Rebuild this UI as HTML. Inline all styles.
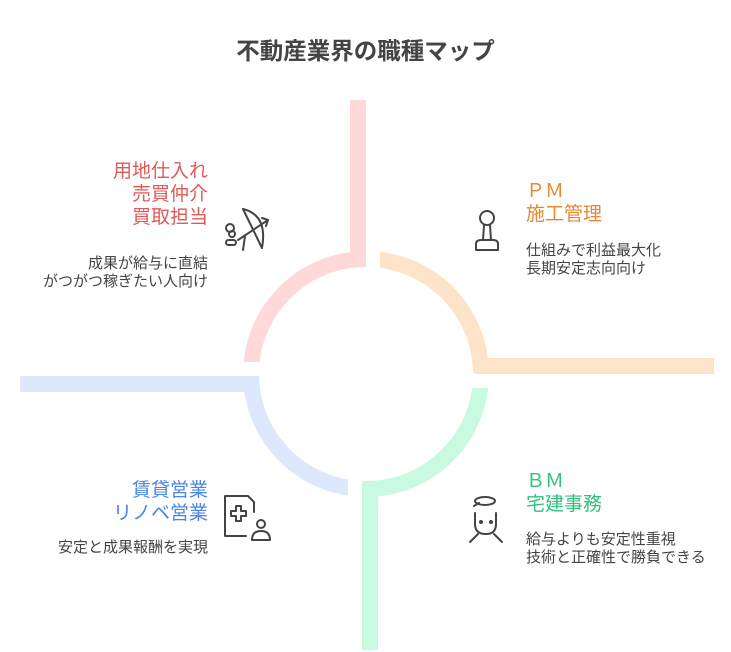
<!DOCTYPE html>
<html><head><meta charset="utf-8"><style>
body{margin:0;width:731px;height:652px;background:#fff;position:relative;overflow:hidden;font-family:"Liberation Sans","Noto Sans CJK JP",sans-serif}
.t{position:absolute;white-space:nowrap}
.r{text-align:right;right:523px}
.h{font-size:19px;line-height:23px}
.d{font-size:15px;line-height:18px;color:#444}
</style></head><body>
<svg width="731" height="652" style="position:absolute;left:0;top:0">
<defs>
<clipPath id="cp"><rect x="0" y="0" width="366" height="362"/></clipPath>
<clipPath id="co"><rect x="380" y="0" width="400" height="373"/></clipPath>
<clipPath id="cg"><rect x="362" y="388" width="400" height="300"/></clipPath>
<clipPath id="cb"><rect x="0" y="376" width="348" height="300"/></clipPath>
</defs>
<circle cx="366" cy="374" r="115" fill="none" stroke="#ffd9da" stroke-width="16" clip-path="url(#cp)"/>
<circle cx="366" cy="374" r="115" fill="none" stroke="#fde3c8" stroke-width="16" clip-path="url(#co)"/>
<circle cx="366" cy="374" r="115" fill="none" stroke="#c8fae0" stroke-width="16" clip-path="url(#cg)"/>
<circle cx="366" cy="374" r="115" fill="none" stroke="#dde8fd" stroke-width="16" clip-path="url(#cb)"/>
<rect x="350" y="100" width="16" height="166" fill="#ffd9da"/>
<rect x="475" y="358" width="239" height="16" fill="#fde3c8"/>
<rect x="362" y="482" width="16" height="168" fill="#c8fae0"/>
<rect x="20" y="376" width="239" height="16" fill="#dde8fd"/>
<g fill="none" stroke="#444" stroke-width="2" stroke-linecap="round" stroke-linejoin="round">
<path d="M243 209 Q268 215 262 248"/><path d="M243 209 L262 248"/><path d="M238 240 L268 220"/><path d="M262 218 L268 220 L266 226"/><path d="M245 236 L243 250"/>
<circle cx="230" cy="228" r="4"/><circle cx="232" cy="234" r="3"/><rect x="226" y="240" width="10" height="5" rx="2.5"/>
<circle cx="487" cy="218" r="7"/><path d="M484 225 L483 240 M490 225 L491 240 M476 250 L476 244 Q476 240 481 240 L493 240 Q498 240 498 244 L498 250 Z"/>
<ellipse cx="485" cy="501" rx="10" ry="4"/><path d="M479 503 L474 506 M475 513 L475 524 Q475 534 486 534 Q496 534 496 524 L496 513"/><path d="M470 542 L478 534 M494 534 L502 542"/>
<circle cx="481" cy="522" r="1" fill="#444"/><circle cx="491" cy="522" r="1" fill="#444"/>
<path d="M235 496 L248 496 L254 502 L254 512 M246 536 L225 536 L225 496 L235 496"/><path d="M236 506 h5 v5 h5 v5 h-5 v5 h-5 v-5 h-5 v-5 h5 z"/>
<circle cx="261" cy="524" r="4"/><path d="M252 540 Q252 531 261 531 Q270 531 270 540 Z"/>
</g>
</svg>
<div class="t" style="left:0;width:731px;text-align:center;top:32px;font-size:23.5px;font-weight:bold;color:#444">不動産業界の職種マップ</div>
<div class="t r h" style="top:160px;color:#e05a5a">用地仕入れ<br>売買仲介<br>買取担当</div>
<div class="t r d" style="top:255px">成果が給与に直結<br>がつがつ稼ぎたい人向け</div>
<div class="t h" style="left:526px;top:180px;color:#e58a33">ＰＭ<br>施工管理</div>
<div class="t d" style="left:526px;top:242px">仕組みで利益最大化<br>長期安定志向向け</div>
<div class="t h" style="left:526px;top:470px;color:#33c07c">ＢＭ<br>宅建事務</div>
<div class="t d" style="left:526px;top:531px">給与よりも安定性重視<br>技術と正確性で勝負できる</div>
<div class="t r h" style="top:479px;color:#4a86e8">賃貸営業<br>リノベ営業</div>
<div class="t r d" style="top:539px">安定と成果報酬を実現</div>
</body></html>
